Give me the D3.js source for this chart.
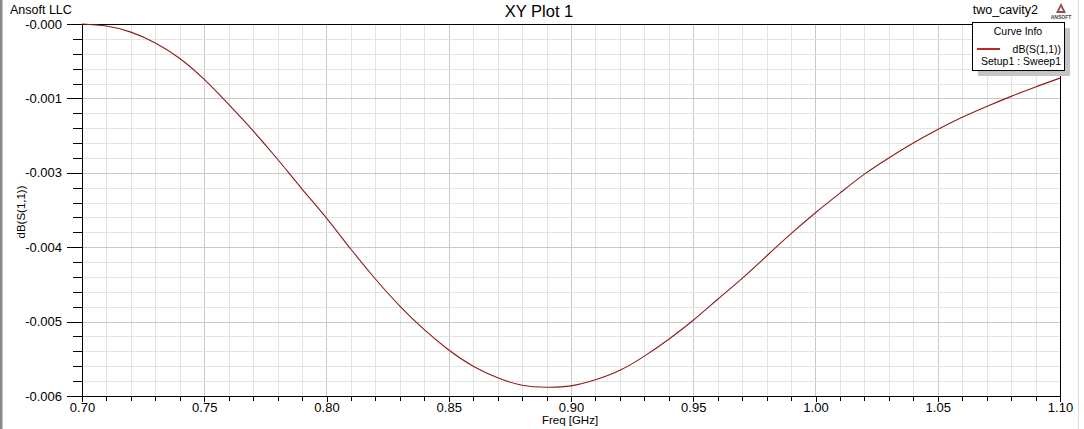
<!DOCTYPE html>
<meta charset="utf-8">
<style>
html, body {
  margin: 0;
  padding: 0;
  background: #fff;
}
svg {
  display: block;
  font-family: "Liberation Sans", Arial, sans-serif;
}
.grid line {
  stroke: #e3e3e3;
  shape-rendering: crispEdges;
}
.grid line.major {
  stroke: #c9c9c9;
}
.axis path, .axis line {
  stroke: #000;
  shape-rendering: crispEdges;
}
</style>
<svg width="1084" height="429"></svg>
<script src="https://cdn.jsdelivr.net/npm/d3@7"></script>
<script>
// frequency sweep, GHz
const freq = [0.70, 0.71, 0.72, 0.73, 0.74, 0.75, 0.76, 0.77, 0.78, 0.79,
  0.80, 0.81, 0.82, 0.83, 0.84, 0.85, 0.86, 0.87, 0.88, 0.89,
  0.90, 0.91, 0.92, 0.93, 0.94, 0.95, 0.96, 0.97, 0.98, 0.99,
  1.00, 1.01, 1.02, 1.03, 1.04, 1.05, 1.06, 1.07, 1.08, 1.09, 1.10];
// dB(S(1,1))
const s11 = [-0.00035, -0.00038, -0.00047, -0.00063, -0.00086, -0.00117, -0.00154, -0.00193, -0.00235, -0.00279,
  -0.00322, -0.00368, -0.00412, -0.00452, -0.00487, -0.00517, -0.00541, -0.00558, -0.00569, -0.00572,
  -0.00570, -0.00561, -0.00547, -0.00526, -0.00501, -0.00473, -0.00442, -0.00411, -0.00378, -0.00345,
  -0.00314, -0.00285, -0.00257, -0.00233, -0.00211, -0.00191, -0.00173, -0.00157, -0.00142, -0.00128, -0.00115];

const xTicks = [0.70, 0.75, 0.80, 0.85, 0.90, 0.95, 1.00, 1.05, 1.10];
const xTickLabels = ['0.70', '0.75', '0.80', '0.85', '0.90', '0.95', '1.00', '1.05', '1.10'];
const yTicks = [-0.00035, -0.00145, -0.00255, -0.00365, -0.00475, -0.00585];
const yTickLabels = ['-0.000', '-0.001', '-0.003', '-0.004', '-0.005', '-0.006'];

const svg = d3.select('svg');
const width = +svg.attr('width');
const height = +svg.attr('height');
const margin = {top: 24, right: 24, bottom: 33, left: 82};
const plotW = 1060 - margin.left;
const plotH = 396 - margin.top;

// window border
svg.append('rect')
  .attr('x', 0).attr('y', 0)
  .attr('width', 2.5).attr('height', height)
  .attr('fill', '#8a8a8a');
svg.append('rect')
  .attr('x', 1078).attr('y', 0)
  .attr('width', 1).attr('height', height)
  .attr('fill', '#dcdcdc');

const x = d3.scaleLinear().domain([0.70, 1.10]).range([0, plotW]);
const y = d3.scaleLinear().domain([yTicks[5], yTicks[0]]).range([plotH, 0]);

const xMinor = d3.range(0, 41).map(i => 0.70 + i * 0.01);
const yStep = (yTicks[0] - yTicks[1]) / 5;
const yMinor = d3.range(0, 26).map(i => yTicks[0] - i * yStep);

const g = svg.append('g')
  .attr('transform', `translate(${margin.left},${margin.top})`);

// grid
const grid = g.append('g').attr('class', 'grid');
grid.selectAll('line.vx')
  .data(xMinor)
  .enter().append('line')
  .attr('class', (d, i) => i % 5 === 0 ? 'vx major' : 'vx')
  .attr('x1', d => Math.round(x(d)) + 0.5).attr('x2', d => Math.round(x(d)) + 0.5)
  .attr('y1', 0).attr('y2', plotH);
grid.selectAll('line.hy')
  .data(yMinor)
  .enter().append('line')
  .attr('class', (d, i) => i % 5 === 0 ? 'hy major' : 'hy')
  .attr('x1', 0).attr('x2', plotW)
  .attr('y1', d => Math.round(y(d)) + 0.5).attr('y2', d => Math.round(y(d)) + 0.5);

// minor ticks
g.append('g')
  .attr('class', 'axis')
  .attr('transform', `translate(0,${plotH})`)
  .call(d3.axisBottom(x).tickValues(xMinor).tickSize(5).tickFormat(''))
  .call(a => a.select('.domain').remove());
g.append('g')
  .attr('class', 'axis')
  .call(d3.axisLeft(y).tickValues(yMinor).tickSize(9).tickFormat(''))
  .call(a => a.select('.domain').remove());

// major ticks and labels
const xAxis = g.append('g')
  .attr('class', 'axis')
  .attr('transform', `translate(0,${plotH})`)
  .call(d3.axisBottom(x).tickValues(xTicks).tickSize(6).tickSizeOuter(0)
    .tickFormat((d, i) => xTickLabels[i]));
xAxis.select('.domain').remove();
xAxis.selectAll('text')
  .attr('font-family', '"Liberation Sans", Arial, sans-serif')
  .attr('font-size', 13)
  .attr('fill', '#000')
  .attr('dy', '0.95em')
  .attr('y', 4);

const yAxis = g.append('g')
  .attr('class', 'axis')
  .call(d3.axisLeft(y).tickValues(yTicks).tickSize(15).tickSizeOuter(0)
    .tickFormat((d, i) => yTickLabels[i]));
yAxis.select('.domain').remove();
yAxis.selectAll('text')
  .attr('font-family', '"Liberation Sans", Arial, sans-serif')
  .attr('font-size', 13)
  .attr('fill', '#000')
  .attr('x', -20);

// plot frame
g.append('rect')
  .attr('x', 0.5).attr('y', 0.5)
  .attr('width', plotW).attr('height', plotH)
  .attr('fill', 'none')
  .attr('stroke', '#000')
  .attr('stroke-width', 1.2)
  .attr('shape-rendering', 'crispEdges');

// curve
const line = d3.line()
  .x((d, i) => x(freq[i]))
  .y(d => y(d))
  .curve(d3.curveNatural);
g.append('path')
  .datum(s11)
  .attr('d', line)
  .attr('fill', 'none')
  .attr('stroke', '#8e1a1a')
  .attr('stroke-width', 1.1);

// texts
svg.append('text')
  .attr('x', 10).attr('y', 14)
  .attr('font-size', 12.5)
  .text('Ansoft LLC');
svg.append('text')
  .attr('x', 539).attr('y', 17)
  .attr('text-anchor', 'middle')
  .attr('font-size', 16.5)
  .text('XY Plot 1');
svg.append('text')
  .attr('x', 1038).attr('y', 14)
  .attr('text-anchor', 'end')
  .attr('font-size', 12.5)
  .text('two_cavity2');
svg.append('text')
  .attr('x', 570).attr('y', 424)
  .attr('text-anchor', 'middle')
  .attr('font-size', 11.5)
  .text('Freq [GHz]');
svg.append('text')
  .attr('transform', 'translate(25,212) rotate(-90)')
  .attr('text-anchor', 'middle')
  .attr('font-size', 11.5)
  .text('dB(S(1,1))');

// ansoft logo
const logo = svg.append('g').attr('transform', 'translate(1061,3)');
logo.append('path')
  .attr('d', 'M0,0 L-5,10 L5,10 Z')
  .attr('fill', '#9b4a4a');
logo.append('path')
  .attr('d', 'M0,4 L-2,8 L2,8 Z')
  .attr('fill', '#fff');
logo.append('text')
  .attr('x', 0).attr('y', 16)
  .attr('text-anchor', 'middle')
  .attr('font-size', 5)
  .attr('font-weight', 'bold')
  .attr('fill', '#444')
  .text('ANSOFT');

// legend
const legend = svg.append('g').attr('transform', 'translate(972,22)');
legend.append('rect')
  .attr('x', 6).attr('y', 6)
  .attr('width', 92).attr('height', 48)
  .attr('fill', '#c4c4c4');
legend.append('rect')
  .attr('x', 0.5).attr('y', 0.5)
  .attr('width', 92).attr('height', 48)
  .attr('fill', '#fff')
  .attr('stroke', '#000')
  .attr('shape-rendering', 'crispEdges');
legend.append('text')
  .attr('x', 46).attr('y', 13)
  .attr('text-anchor', 'middle')
  .attr('font-size', 10.5)
  .text('Curve Info');
legend.append('line')
  .attr('x1', 5).attr('x2', 28)
  .attr('y1', 27).attr('y2', 27)
  .attr('stroke', '#c0262a')
  .attr('stroke-width', 2);
legend.append('text')
  .attr('x', 89).attr('y', 31)
  .attr('text-anchor', 'end')
  .attr('font-size', 10.5)
  .text('dB(S(1,1))');
legend.append('text')
  .attr('x', 89).attr('y', 43)
  .attr('text-anchor', 'end')
  .attr('font-size', 10.5)
  .text('Setup1 : Sweep1');
</script>
